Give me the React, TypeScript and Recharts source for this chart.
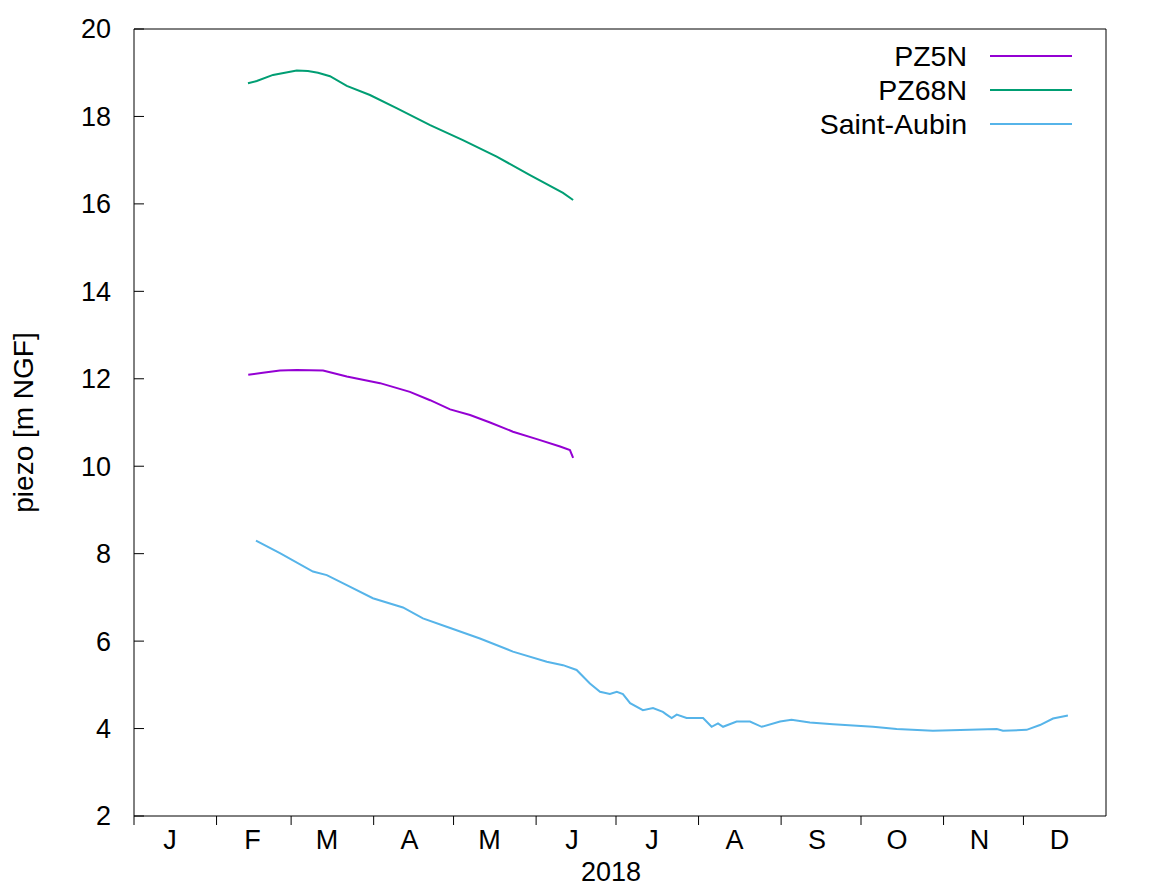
import React from 'react';
import { ComposedChart, Line, XAxis, YAxis, ReferenceLine, Legend, Label } from 'recharts';

// day of year 2018 (0 = 1 Jan) and level in m NGF
const pz5nDays = [42.9, 48.4, 54.8, 61.1, 71.0, 79.9, 92.4, 103.6, 111.2, 118.7, 126.2, 133.7, 142.3, 151.3, 160.0, 163.7, 164.9];
const pz5nLevels = [12.09, 12.14, 12.19, 12.2, 12.19, 12.05, 11.9, 11.7, 11.51, 11.3, 11.17, 11.0, 10.79, 10.62, 10.45, 10.37, 10.19];

const pz68nDays = [42.8, 46.1, 52.2, 61.1, 65.3, 69.1, 73.6, 79.9, 88.6, 98.6, 111.2, 123.5, 136.2, 148.7, 161.1, 164.9];
const pz68nLevels = [18.76, 18.81, 18.95, 19.05, 19.04, 19.0, 18.92, 18.7, 18.49, 18.19, 17.8, 17.46, 17.08, 16.66, 16.25, 16.09];

const saDays = [
  45.8, 54.8, 67.2, 72.4, 79.9, 89.7, 101.0, 108.5, 117.4, 129.9, 142.3, 155.0, 161.1, 166.2, 171.2, 175.0,
  178.7, 181.3, 183.6, 186.3, 191.1, 194.9, 198.6, 200.0, 201.9, 203.8, 207.5, 213.7, 216.9, 219.3, 221.2,
  226.3, 231.3, 235.7, 242.6, 246.9, 253.8, 262.5, 277.5, 286.4, 300.0, 324.0, 326.3, 335.2, 340.2, 345.1, 350.7,
];
const saLevels = [
  8.3, 8.01, 7.59, 7.51, 7.28, 6.98, 6.77, 6.52, 6.33, 6.06, 5.76, 5.53, 5.45, 5.34, 5.03, 4.84,
  4.79, 4.84, 4.79, 4.58, 4.42, 4.47, 4.38, 4.32, 4.24, 4.32, 4.24, 4.24, 4.04, 4.12, 4.04,
  4.16, 4.16, 4.04, 4.16, 4.2, 4.14, 4.1, 4.04, 3.99, 3.95, 3.99, 3.95, 3.97, 4.08, 4.23, 4.3,
];

const monthStarts = [0, 31, 59, 90, 120, 151, 181, 212, 243, 273, 304, 334];
const monthLabelDays = [13.5, 44.5, 72.5, 103.5, 133.5, 164.5, 194.5, 225.5, 256.5, 286.5, 317.5, 347.5];
const monthLabels = ['J', 'F', 'M', 'A', 'M', 'J', 'J', 'A', 'S', 'O', 'N', 'D'];
const yTicks = [2, 4, 6, 8, 10, 12, 14, 16, 18, 20];

const toSeries = (days: number[], levels: number[]) => days.map((d, i) => ({ d, v: levels[i] }));
const pz5n = toSeries(pz5nDays, pz5nLevels);
const pz68n = toSeries(pz68nDays, pz68nLevels);
const saintAubin = toSeries(saDays, saLevels);

const FONT = '"Liberation Sans", Arial, sans-serif';
const FS = 27;

const LeftTick = (props: any) => {
  const { x, y, payload } = props;
  return (
    <g>
      <line x1={x} x2={x + 10} y1={y} y2={y} stroke="#000" />
      <text x={x - 23} y={y} dy="0.35em" textAnchor="end" fontFamily={FONT} fontSize={FS} fill="#000">
        {payload.value}
      </text>
    </g>
  );
};

const RightTick = (props: any) => {
  const { x, y, payload } = props;
  return (
    <g>
      <line x1={x - 10} x2={x} y1={y} y2={y} stroke="#000" />
      <text x={x + 23} y={y} dy="0.35em" textAnchor="start" fontFamily={FONT} fontSize={FS} fill="#000">
        {payload.value}
      </text>
    </g>
  );
};

const MonthTick = (props: any) => {
  const { x, y, payload } = props;
  const bi = monthStarts.indexOf(payload.value);
  if (bi >= 0) {
    return <line x1={x} x2={x} y1={y} y2={y + 9} stroke="#000" />;
  }
  const li = monthLabelDays.indexOf(payload.value);
  return (
    <text x={x} y={y + 33} textAnchor="middle" fontFamily={FONT} fontSize={FS} fill="#000">
      {monthLabels[li]}
    </text>
  );
};

const renderLegend = (props: any) => {
  const { payload } = props;
  return (
    <div style={{ display: 'flex', flexDirection: 'column', alignItems: 'flex-end' }}>
      {(payload || []).map((e: any) => (
        <div key={e.value} style={{ display: 'flex', alignItems: 'center', height: 34 }}>
          <span style={{ fontFamily: FONT, fontSize: 28.5, lineHeight: '34px', color: '#000' }}>{e.value}</span>
          <svg width={82} height={4} style={{ marginLeft: 23, display: 'block' }}>
            <line x1={0} x2={82} y1={2} y2={2} stroke={e.color} strokeWidth={2} />
          </svg>
        </div>
      ))}
    </div>
  );
};

export default function App() {
  return (
    <div style={{ position: 'absolute', left: 0, top: 0, background: '#fff' }}>
      <ComposedChart width={1168} height={886} margin={{ top: 29, right: 22, left: 54, bottom: 30 }}>
        <XAxis
          dataKey="d"
          type="number"
          domain={[0, 365]}
          ticks={[...monthStarts, ...monthLabelDays]}
          interval={0}
          tick={<MonthTick />}
          tickLine={false}
          tickSize={0}
          tickMargin={0}
          axisLine={{ stroke: '#000' }}
          height={40}
          allowDataOverflow
        >
          <Label
            content={(p: any) => {
              const vb = p.viewBox;
              return (
                <text x={vb.x + vb.width / 2 - 9} y={vb.y + 65} textAnchor="middle" fontFamily={FONT} fontSize={FS} fill="#000">
                  2018
                </text>
              );
            }}
          />
        </XAxis>
        <YAxis
          yAxisId="left"
          orientation="left"
          type="number"
          domain={[2, 20]}
          ticks={yTicks}
          interval={0}
          width={80}
          tick={<LeftTick />}
          tickLine={false}
          tickSize={0}
          tickMargin={0}
          axisLine={{ stroke: '#000' }}
        >
          <Label
            content={(p: any) => {
              const vb = p.viewBox;
              const cx = vb.x - 21;
              const cy = vb.y + vb.height / 2;
              return (
                <text x={cx} y={cy} transform={`rotate(-90 ${cx} ${cy})`} textAnchor="middle" fontFamily={FONT} fontSize={28} fill="#000">
                  piezo [m NGF]
                </text>
              );
            }}
          />
        </YAxis>
        <YAxis
          yAxisId="right"
          orientation="right"
          type="number"
          domain={[2, 20]}
          ticks={yTicks}
          interval={0}
          width={40}
          tick={<RightTick />}
          tickLine={false}
          tickSize={0}
          tickMargin={0}
          axisLine={{ stroke: '#000' }}
        />
        <ReferenceLine yAxisId="left" y={20} stroke="#000" />
        <Legend
          layout="vertical"
          align="center"
          verticalAlign="middle"
          content={renderLegend}
          wrapperStyle={{ top: 39, right: 96, left: 'auto', width: 'auto', height: 'auto' }}
        />
        <Line yAxisId="left" data={pz5n} dataKey="v" name="PZ5N" stroke="#9400d3" strokeWidth={2} dot={false} isAnimationActive={false} />
        <Line yAxisId="left" data={pz68n} dataKey="v" name="PZ68N" stroke="#009e73" strokeWidth={2} dot={false} isAnimationActive={false} />
        <Line yAxisId="left" data={saintAubin} dataKey="v" name="Saint-Aubin" stroke="#56b4e9" strokeWidth={2} dot={false} isAnimationActive={false} />
      </ComposedChart>
    </div>
  );
}
